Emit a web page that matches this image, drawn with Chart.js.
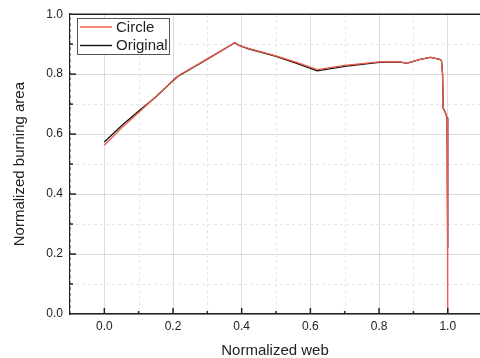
<!DOCTYPE html>
<html lang="en">
<head>
<meta charset="UTF-8">
<title>Normalized burning area vs normalized web</title>
<script src="https://cdn.jsdelivr.net/npm/chart.js@4.4.4/dist/chart.umd.min.js"></script>
<style>
  html, body { margin: 0; padding: 0; background: #fff; }
  canvas { display: block; }
</style>
</head>
<body>
<canvas id="chart" width="480" height="358"></canvas>
<script>
// Circle curve (red)
const circleWeb  = [0.0, 0.05, 0.10, 0.15, 0.22, 0.30, 0.38, 0.39, 0.42, 0.50, 0.56, 0.62, 0.70, 0.80, 0.86, 0.88, 0.92, 0.95, 0.977, 0.982, 0.985, 0.987, 0.993, 0.998, 1.0];
const circleArea = [0.563, 0.620, 0.672, 0.725, 0.798, 0.851, 0.905, 0.897, 0.886, 0.861, 0.839, 0.815, 0.829, 0.841, 0.842, 0.836, 0.849, 0.857, 0.849, 0.844, 0.800, 0.684, 0.672, 0.655, 0.0];

// Original curve (black)
const originalWeb  = [0.0, 0.05, 0.10, 0.15, 0.21, 0.30, 0.38, 0.39, 0.42, 0.50, 0.56, 0.62, 0.70, 0.80, 0.86, 0.88, 0.92, 0.95, 0.977, 0.982, 0.985, 0.987, 0.993, 0.998, 1.0];
const originalArea = [0.574, 0.628, 0.677, 0.724, 0.790, 0.850, 0.905, 0.897, 0.884, 0.859, 0.836, 0.811, 0.826, 0.839, 0.841, 0.836, 0.849, 0.856, 0.849, 0.844, 0.800, 0.686, 0.672, 0.655, 0.22];

// axis ticks
const xMajor = [0.0, 0.2, 0.4, 0.6, 0.8, 1.0];
const xMinor = [-0.1, 0.1, 0.3, 0.5, 0.7, 0.9];
const yMajor = [0.0, 0.2, 0.4, 0.6, 0.8, 1.0];
const yMinor = [0.1, 0.3, 0.5, 0.7, 0.9];

const FONT = '"Liberation Sans", Arial, sans-serif';
const TEXT = '#222';
const AXIS = '#222';

const toPoints = (xs, ys) => xs.map((x, i) => ({ x: x, y: ys[i] }));

// dashed minor grid, inward tick marks, top frame line, boxed legend
const framePlugin = {
    id: 'frame',
    beforeDatasetsDraw(chart) {
        const { ctx, chartArea: a, scales: { x, y } } = chart;
        ctx.save();
        ctx.strokeStyle = '#e6e6e6';
        ctx.lineWidth = 1;
        ctx.setLineDash([3, 3]);
        xMinor.forEach(v => {
            const px = Math.round(x.getPixelForValue(v)) + 0.5;
            ctx.beginPath(); ctx.moveTo(px, a.top); ctx.lineTo(px, a.bottom); ctx.stroke();
        });
        yMinor.forEach(v => {
            const py = Math.round(y.getPixelForValue(v)) + 0.5;
            ctx.beginPath(); ctx.moveTo(a.left, py); ctx.lineTo(a.right, py); ctx.stroke();
        });
        ctx.restore();
    },
    afterDraw(chart) {
        const { ctx, chartArea: a, scales: { x, y } } = chart;
        ctx.save();
        ctx.strokeStyle = AXIS;
        // top frame
        ctx.lineWidth = 1.5;
        ctx.beginPath(); ctx.moveTo(a.left, a.top); ctx.lineTo(a.right, a.top); ctx.stroke();
        // ticks pointing into the plot
        ctx.lineWidth = 1.5;
        const tick = (vals, len, horiz) => vals.forEach(v => {
            ctx.beginPath();
            if (horiz) {
                const px = x.getPixelForValue(v);
                ctx.moveTo(px, a.bottom); ctx.lineTo(px, a.bottom - len);
            } else {
                const py = y.getPixelForValue(v);
                ctx.moveTo(a.left, py); ctx.lineTo(a.left + len, py);
            }
            ctx.stroke();
        });
        tick(xMajor, 6, true);
        tick(xMinor.filter(v => v > -0.1), 3, true);
        tick(yMajor.filter(v => v > 0 && v < 1), 6, false);
        tick(yMinor, 3, false);

        // legend box
        const bx = 77, by = 18, bw = 92, bh = 36;
        ctx.fillStyle = '#fff';
        ctx.fillRect(bx, by, bw, bh);
        ctx.lineWidth = 1;
        ctx.strokeStyle = '#555';
        ctx.strokeRect(bx + 0.5, by + 0.5, bw, bh);
        ctx.font = '15px ' + FONT;
        ctx.textBaseline = 'middle';
        ctx.textAlign = 'left';
        chart.data.datasets.forEach((ds, i) => {
            const ly = by + 9 + i * 18.5;
            ctx.strokeStyle = ds.borderColor;
            ctx.lineWidth = 1.4;
            ctx.beginPath(); ctx.moveTo(bx + 3, ly); ctx.lineTo(bx + 35, ly); ctx.stroke();
            ctx.fillStyle = TEXT;
            ctx.fillText(ds.label, bx + 39, ly + 0.5);
        });
        ctx.restore();
    }
};

new Chart(document.getElementById('chart'), {
    type: 'scatter',
    data: {
        datasets: [
            {
                label: 'Circle',
                data: toPoints(circleWeb, circleArea),
                borderColor: '#f05a46',
                backgroundColor: '#f05a46',
                borderWidth: 1.3,
                showLine: true,
                pointRadius: 0,
                tension: 0
            },
            {
                label: 'Original',
                data: toPoints(originalWeb, originalArea),
                borderColor: '#111111',
                backgroundColor: '#111111',
                borderWidth: 1.3,
                showLine: true,
                pointRadius: 0,
                tension: 0
            }
        ]
    },
    options: {
        responsive: false,
        animation: false,
        devicePixelRatio: 1,
        layout: { padding: { top: 11, right: 0, bottom: 0, left: 0 } },
        plugins: {
            legend: { display: false },
            tooltip: { enabled: false }
        },
        scales: {
            x: {
                type: 'linear',
                min: -0.1,
                max: 1.094,
                afterBuildTicks: s => { s.ticks = xMajor.map(v => ({ value: v })); },
                afterFit: s => { s.height = 44; },
                ticks: {
                    callback: v => v.toFixed(1),
                    font: { family: FONT, size: 12 },
                    color: TEXT,
                    padding: 5,
                    maxRotation: 0,
                    autoSkip: false
                },
                grid: { color: '#dcdcdc', lineWidth: 1, drawTicks: false },
                border: { color: AXIS, width: 1.5 },
                title: {
                    display: true,
                    text: 'Normalized web',
                    color: TEXT,
                    font: { family: FONT, size: 15, lineHeight: 1 },
                    padding: { top: 0, bottom: 0 }
                }
            },
            y: {
                min: 0,
                max: 1,
                afterBuildTicks: s => { s.ticks = yMajor.map(v => ({ value: v })); },
                afterFit: s => { s.width = 70; },
                ticks: {
                    callback: v => v.toFixed(1),
                    font: { family: FONT, size: 12 },
                    color: TEXT,
                    padding: 7
                },
                grid: { color: '#dcdcdc', lineWidth: 1, drawTicks: false },
                border: { color: AXIS, width: 1.5 },
                title: {
                    display: true,
                    text: 'Normalized burning area',
                    color: TEXT,
                    font: { family: FONT, size: 15, lineHeight: 1 },
                    padding: { top: 12, bottom: 0 }
                }
            }
        }
    },
    plugins: [framePlugin]
});
</script>
</body>
</html>
